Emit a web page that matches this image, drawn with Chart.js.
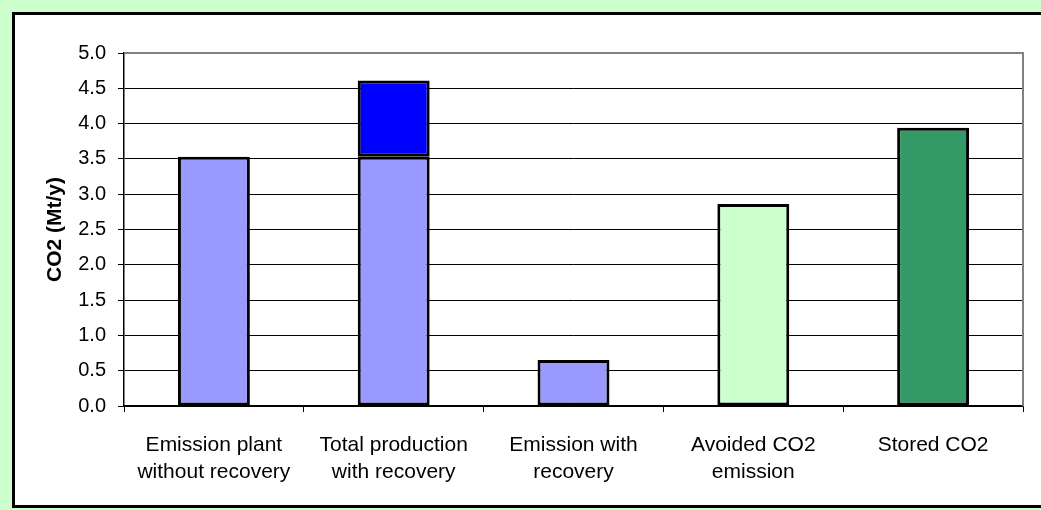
<!DOCTYPE html>
<html>
<head>
<meta charset="utf-8">
<script src="https://cdn.jsdelivr.net/npm/chart.js@4.4.1/dist/chart.umd.min.js"></script>
<style>
  html, body { margin: 0; padding: 0; background: #CCFFCC; }
  #wrap { position: relative; width: 1041px; height: 510px; }
</style>
</head>
<body>
<div id="wrap"><canvas id="c" width="1041" height="510"></canvas></div>
<script>
// CO2 balance of the plant, in Mt per year
const categories = [
  ['Emission plant', 'without recovery'],
  ['Total production', 'with recovery'],
  ['Emission with', 'recovery'],
  ['Avoided CO2', 'emission'],
  ['Stored CO2']
];
const emitted   = [3.53, 3.53, 0.65, null, null];
const captured  = [null, 1.08, null, null, null];
const avoided   = [null, null, null, 2.86, null];
const stored    = [null, null, null, null, 3.94];
const yTicks    = [0, 0.5, 1, 1.5, 2, 2.5, 3, 3.5, 4, 4.5, 5];

const FONT = '"Liberation Sans", Arial, sans-serif';

// Frame, background and plot-area outline
const framePlugin = {
  id: 'frame',
  beforeDraw(chart) {
    const ctx = chart.ctx;
    ctx.save();
    ctx.fillStyle = '#CCFFCC';
    ctx.fillRect(0, 0, chart.width, chart.height);
    ctx.fillStyle = '#FFFFFF';
    ctx.fillRect(12, 12, chart.width - 12, 496);
    ctx.fillStyle = '#000000';
    ctx.fillRect(12, 12, chart.width - 12, 3);
    ctx.fillRect(12, 12, 3, 496);
    ctx.fillRect(12, 505, chart.width - 12, 3);
    ctx.restore();
  },
  afterDraw(chart) {
    const a = chart.chartArea;
    const ctx = chart.ctx;
    ctx.save();
    ctx.strokeStyle = '#808080';
    ctx.lineWidth = 2;
    ctx.beginPath();
    ctx.moveTo(a.left, a.top);
    ctx.lineTo(a.right, a.top);
    ctx.lineTo(a.right, a.bottom);
    ctx.stroke();
    ctx.restore();
  }
};

const barStyle = { borderColor: '#000000', borderWidth: 3, borderSkipped: false, stack: 's' };

new Chart(document.getElementById('c'), {
  type: 'bar',
  data: {
    labels: categories,
    datasets: [
      Object.assign({ label: 'Emitted', data: emitted, backgroundColor: '#9999FF' }, barStyle),
      Object.assign({ label: 'Captured', data: captured, backgroundColor: '#0000FF' }, barStyle),
      Object.assign({ label: 'Avoided', data: avoided, backgroundColor: '#CCFFCC' }, barStyle),
      Object.assign({ label: 'Stored', data: stored, backgroundColor: '#339966' }, barStyle)
    ]
  },
  plugins: [framePlugin],
  options: {
    responsive: false,
    animation: false,
    devicePixelRatio: 1,
    layout: { padding: { top: 53, right: 18, left: 0, bottom: 0 } },
    datasets: { bar: { categoryPercentage: 1.0, barPercentage: 0.4 } },
    plugins: { legend: { display: false }, tooltip: { enabled: false } },
    scales: {
      x: {
        stacked: true,
        afterFit(scale) { scale.height = 104; },
        grid: { display: true, offset: true, drawOnChartArea: false, drawTicks: true, tickLength: 6, color: '#000000', lineWidth: 1 },
        border: { display: true, color: '#000000', width: 1.5 },
        ticks: { color: '#000000', padding: 19, maxRotation: 0, autoSkip: false,
                 font: { family: FONT, size: 21, lineHeight: 1.31 } }
      },
      y: {
        stacked: true,
        min: 0,
        max: 5,
        afterFit(scale) { scale.width = 124; },
        afterBuildTicks(scale) { scale.ticks = yTicks.map(v => ({ value: v })); },
        grid: { color: '#000000', lineWidth: 1, drawTicks: true, tickLength: 6 },
        border: { display: true, color: '#000000', width: 1.5 },
        ticks: { color: '#000000', padding: 12, callback: v => Number(v).toFixed(1),
                 font: { family: FONT, size: 20 } },
        title: { display: true, text: 'CO2 (Mt/y)', color: '#000000',
                 padding: { top: 43, bottom: 0 },
                 font: { family: FONT, size: 21, weight: 'bold' } }
      }
    }
  }
});
</script>
</body>
</html>
